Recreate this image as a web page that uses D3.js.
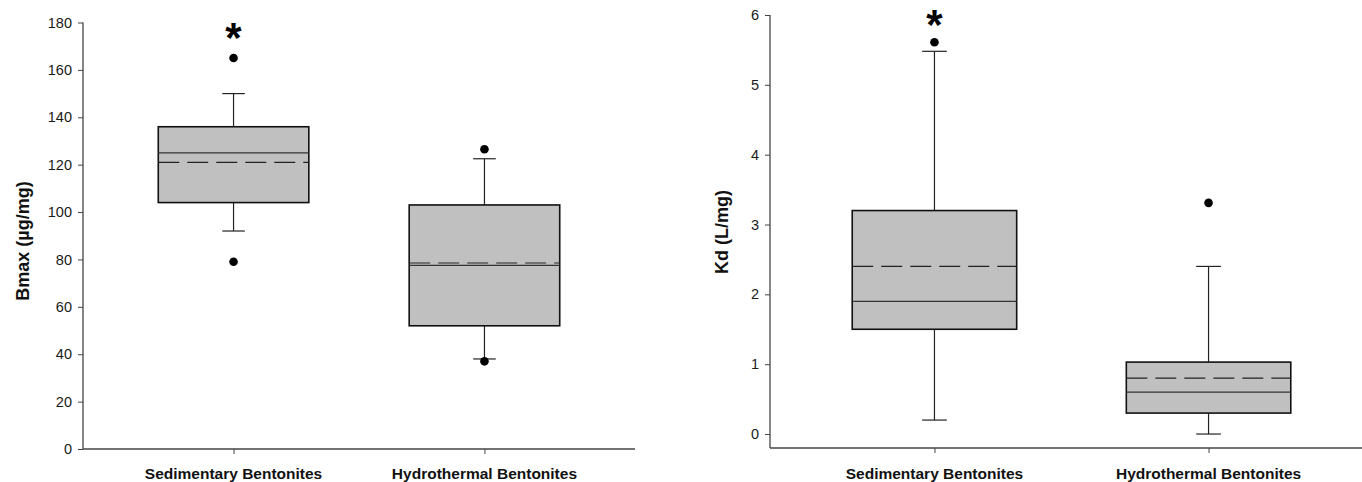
<!DOCTYPE html>
<html>
<head>
<meta charset="utf-8">
<script src="https://cdn.jsdelivr.net/npm/d3@7"></script>
<style>
  html, body { margin: 0; padding: 0; background: #fff; }
  svg { display: block; }
  text { font-family: "Liberation Sans", Arial, sans-serif; }
</style>
</head>
<body>
<svg id="chart" width="1362" height="482"></svg>
<script>
// ---------- data ----------
const categories = ["Sedimentary Bentonites", "Hydrothermal Bentonites"];

// Panel A: Bmax (µg/mg)
const bmaxQ1 = [104, 52];
const bmaxMedian = [125, 77.5];
const bmaxQ3 = [136, 103];
const bmaxMean = [121, 78.5];
const bmaxWhiskerLow = [92, 38];
const bmaxWhiskerHigh = [150, 122.5];
const bmaxOutliers = [[165, 79], [126.5, 37]];
const bmaxTicks = [0, 20, 40, 60, 80, 100, 120, 140, 160, 180];

// Panel B: Kd (L/mg)
const kdQ1 = [1.5, 0.3];
const kdMedian = [1.9, 0.6];
const kdQ3 = [3.2, 1.03];
const kdMean = [2.4, 0.8];
const kdWhiskerLow = [0.2, 0];
const kdWhiskerHigh = [5.48, 2.4];
const kdOutliers = [[5.61], [3.31]];
const kdTicks = [0, 1, 2, 3, 4, 5, 6];

const significant = [true, false]; // asterisk markers

// ---------- drawing ----------
const svg = d3.select("#chart");

function panel(cfg) {
  const g = svg.append("g");
  const x = d3.scalePoint().domain(categories).range(cfg.xRange).padding(0.6);
  const y = d3.scaleLinear().domain(cfg.yDomain).range(cfg.yRange);
  const step = x.step();
  const boxW = step * 0.6;
  const capW = step * 0.09;

  const data = categories.map((c, i) => ({
    cat: c, q1: cfg.q1[i], med: cfg.med[i], q3: cfg.q3[i], mean: cfg.mean[i],
    lo: cfg.lo[i], hi: cfg.hi[i], out: cfg.out[i], sig: significant[i]
  }));

  // axes
  const yAxis = d3.axisLeft(y).tickValues(cfg.ticks).tickSize(5).tickPadding(6)
    .tickFormat(d3.format("d"));
  const ya = g.append("g").attr("transform", `translate(${cfg.xRange[0]},0)`).call(yAxis);
  ya.select(".domain").attr("d", `M0,${y(cfg.yDomain[1])}V${y(cfg.yDomain[0])}`);

  const xAxis = d3.axisBottom(x).tickSize(5).tickFormat("");
  const xa = g.append("g").attr("transform", `translate(0,${y(cfg.yDomain[0])})`).call(xAxis);
  xa.select(".domain").attr("d", `M${cfg.xRange[0]},0H${cfg.xRange[1]}`);

  [ya, xa].forEach(a => {
    a.selectAll(".domain").attr("stroke", "#444").attr("stroke-width", 1.3);
    a.selectAll(".tick line").attr("stroke", "#444").attr("stroke-width", 1);
    a.selectAll(".tick text").attr("fill", "#1a1a1a").attr("font-size", 14.5)
      .attr("font-family", "Liberation Sans, Arial, sans-serif");
  });

  // category labels
  g.selectAll(".cat").data(data).enter().append("text")
    .attr("x", d => x(d.cat)).attr("y", 479)
    .attr("text-anchor", "middle").attr("font-weight", "bold")
    .attr("font-size", 15.5).attr("fill", "#111").text(d => d.cat);

  // y title
  g.append("text")
    .attr("transform", `translate(${cfg.titleX},${cfg.titleY}) rotate(-90)`)
    .attr("text-anchor", "middle").attr("dominant-baseline", "central")
    .attr("font-weight", "bold").attr("font-size", cfg.titleSize).attr("fill", "#111")
    .text(cfg.title);

  const boxes = g.selectAll(".box").data(data).enter().append("g");

  // whiskers
  boxes.append("line").attr("x1", d => x(d.cat)).attr("x2", d => x(d.cat))
    .attr("y1", d => y(d.q3)).attr("y2", d => y(d.hi)).attr("stroke", "#222").attr("stroke-width", 1.2);
  boxes.append("line").attr("x1", d => x(d.cat)).attr("x2", d => x(d.cat))
    .attr("y1", d => y(d.q1)).attr("y2", d => y(d.lo)).attr("stroke", "#222").attr("stroke-width", 1.2);
  boxes.append("line").attr("x1", d => x(d.cat) - capW / 2).attr("x2", d => x(d.cat) + capW / 2)
    .attr("y1", d => y(d.hi)).attr("y2", d => y(d.hi)).attr("stroke", "#222").attr("stroke-width", 1.2);
  boxes.append("line").attr("x1", d => x(d.cat) - capW / 2).attr("x2", d => x(d.cat) + capW / 2)
    .attr("y1", d => y(d.lo)).attr("y2", d => y(d.lo)).attr("stroke", "#222").attr("stroke-width", 1.2);

  // box
  boxes.append("rect")
    .attr("x", d => x(d.cat) - boxW / 2).attr("width", boxW)
    .attr("y", d => y(d.q3)).attr("height", d => y(d.q1) - y(d.q3))
    .attr("fill", "#c0c0c0").attr("stroke", "#111").attr("stroke-width", 1.6);

  // median
  boxes.append("line").attr("x1", d => x(d.cat) - boxW / 2).attr("x2", d => x(d.cat) + boxW / 2)
    .attr("y1", d => y(d.med)).attr("y2", d => y(d.med)).attr("stroke", "#333").attr("stroke-width", 1.2);
  // mean (dashed)
  boxes.append("line").attr("x1", d => x(d.cat) - boxW / 2).attr("x2", d => x(d.cat) + boxW / 2)
    .attr("y1", d => y(d.mean)).attr("y2", d => y(d.mean)).attr("stroke", "#222").attr("stroke-width", 1.2)
    .attr("stroke-dasharray", "21,8");

  // outliers
  boxes.each(function(d) {
    d3.select(this).selectAll("circle").data(d.out).enter().append("circle")
      .attr("cx", x(d.cat)).attr("cy", v => y(v)).attr("r", 4.3).attr("fill", "#000");
  });

  // asterisks
  boxes.filter(d => d.sig).append("text")
    .attr("x", d => x(d.cat)).attr("y", cfg.starY)
    .attr("text-anchor", "middle").attr("font-size", 42).attr("font-weight", "bold")
    .attr("fill", "#000").text("*");
}

panel({
  xRange: [83, 635], yDomain: [0, 180], yRange: [449, 22.5], ticks: bmaxTicks,
  q1: bmaxQ1, med: bmaxMedian, q3: bmaxQ3, mean: bmaxMean,
  lo: bmaxWhiskerLow, hi: bmaxWhiskerHigh, out: bmaxOutliers,
  title: "Bmax (µg/mg)", titleX: 23, titleY: 241, titleSize: 18, starY: 52
});

panel({
  xRange: [770, 1373], yDomain: [-0.2, 6], yRange: [448, 15], ticks: kdTicks,
  q1: kdQ1, med: kdMedian, q3: kdQ3, mean: kdMean,
  lo: kdWhiskerLow, hi: kdWhiskerHigh, out: kdOutliers,
  title: "Kd (L/mg)", titleX: 722, titleY: 232, titleSize: 18, starY: 39
});
</script>
</body>
</html>
